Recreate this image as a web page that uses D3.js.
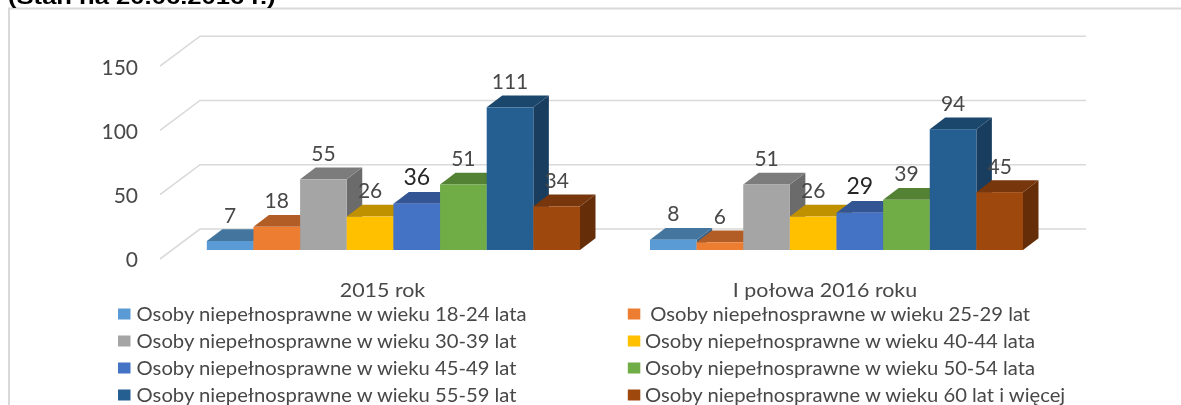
<!DOCTYPE html>
<html><head><meta charset="utf-8">
<style>
html,body{margin:0;padding:0;background:#fff;overflow:hidden}
svg{display:block;filter:blur(0.5px)}
text{font-family:Lato,"Open Sans",sans-serif;white-space:pre}
</style>
<script src="https://cdn.jsdelivr.net/npm/d3@7"></script>
</head><body><svg id="c" width="1181" height="405"></svg>
<script>
const groups = ["2015 rok", "I połowa 2016 roku"];
const seriesNames = [
  "Osoby niepełnosprawne w wieku 18-24 lata",
  " Osoby niepełnosprawne w wieku 25-29 lat",
  "Osoby niepełnosprawne w wieku 30-39 lat",
  "Osoby niepełnosprawne w wieku 40-44 lata",
  "Osoby niepełnosprawne w wieku 45-49 lat",
  "Osoby niepełnosprawne w wieku 50-54 lata",
  "Osoby niepełnosprawne w wieku 55-59 lat",
  "Osoby niepełnosprawne w wieku 60 lat i więcej"
];
const values2015 = [7, 18, 55, 26, 36, 51, 111, 34];
const values2016 = [8, 6, 51, 26, 29, 39, 94, 45];
const yTicks = [0, 50, 100, 150];
const colors = ["#5b9bd5","#ed7d31","#a5a5a5","#ffc000","#4472c4","#70ad47","#255e91","#9e480e"];
const tops   = ["#44759f","#b25d25","#7c7c7c","#bf9000","#335593","#548235","#1c476d","#77360b"];
const sides  = ["#3a6589","#97501f","#6b6b6b","#a67d00","#2c4a80","#49712e","#183d5e","#652e09"];
const emphasized = {36:true, 29:true};

const svg = d3.select("#c");
const y = d3.scaleLinear().domain([0,150]).range([250,57.2]);
const depthX = 15.5, depthY = 11.8;
const floorX = 40, floorY = 30;
const gridFrontX = 160, gridBackRight = 1086, floorDrop = 9;
const grey = "#d9d9d9";
const textCol = "#484848";

svg.append("path").attr("d","M9,405V8.5H1181").attr("fill","none").attr("stroke",grey).attr("stroke-width",2);
svg.append("text").attr("transform",`translate(8,4) scale(1.22,1)`).attr("font-size",21).attr("font-weight",700)
  .style("font-family","'Liberation Sans',Arial,sans-serif").attr("fill","#000").text("(Stan na 20.06.2016 r.)");

yTicks.forEach(t=>{
  const fy = y(t)+floorDrop;
  svg.append("path").attr("d",`M${gridFrontX},${fy}L${gridFrontX+floorX},${fy-floorY}H${gridBackRight}`)
    .attr("fill","none").attr("stroke",grey).attr("stroke-width",1.6);
});
svg.selectAll(".yl").data(yTicks).join("text").attr("class","yl")
  .attr("x",138).attr("y",d=>y(d)+17.3).attr("text-anchor","end")
  .attr("font-size",21).attr("fill",textCol).text(d=>d);

const groupRanges = d3.scaleOrdinal().domain(groups).range([[206.8,580],[650,1023]]);
const catCenter = d3.scaleOrdinal().domain(groups).range([382.5,825]);
[values2015, values2016].forEach((vals,gi)=>{
  const g = groups[gi];
  const [x0,x1] = groupRanges(g);
  const x = d3.scaleBand().domain(d3.range(vals.length)).range([x0,x1]);
  const w = x.bandwidth();
  const gg = svg.append("g");
  vals.forEach((v,i)=>{
    const L=x(i), R=L+w, T=y(v), B=y(0);
    gg.append("path").attr("fill",sides[i]).attr("d",`M${R},${T}L${R+depthX},${T-depthY}V${B-depthY}L${R},${B}Z`);
    gg.append("path").attr("fill",tops[i]).attr("d",`M${L},${T}L${L+depthX},${T-depthY}H${R+depthX}L${R},${T}Z`);
    gg.append("rect").attr("x",L).attr("y",T).attr("width",w).attr("height",B-T).attr("fill",colors[i]);
  });
  vals.forEach((v,i)=>{
    gg.append("text").attr("x",x(i)+w/2).attr("y",y(v)-18.5)
      .attr("text-anchor","middle").attr("font-size",emphasized[v]?23:21)
      .attr("fill",emphasized[v]?"#262626":textCol).text(v);
  });
  svg.append("text").attr("transform",`translate(${catCenter(g)},297.3) scale(1.07,1)`)
    .attr("text-anchor","middle").attr("font-size",20).attr("fill",textCol).text(g);
});

const legCol = d3.scaleOrdinal().domain([0,1]).range([118,627.8]);
const legRow = d3.scalePoint().domain([0,1,2,3]).range([314,395]);
seriesNames.forEach((n,i)=>{
  const c=i%2, r=Math.floor(i/2);
  svg.append("rect").attr("x",legCol(c)).attr("y",legRow(r)-5.5).attr("width",12.5).attr("height",11).attr("fill",colors[i]);
  svg.append("text").attr("transform",`translate(${legCol(c)+(c?17.2:18.6)},${legRow(r)+6.8}) scale(1.065,1)`)
     .attr("font-size",19).attr("fill",textCol).text(n);
});
</script></body></html>
